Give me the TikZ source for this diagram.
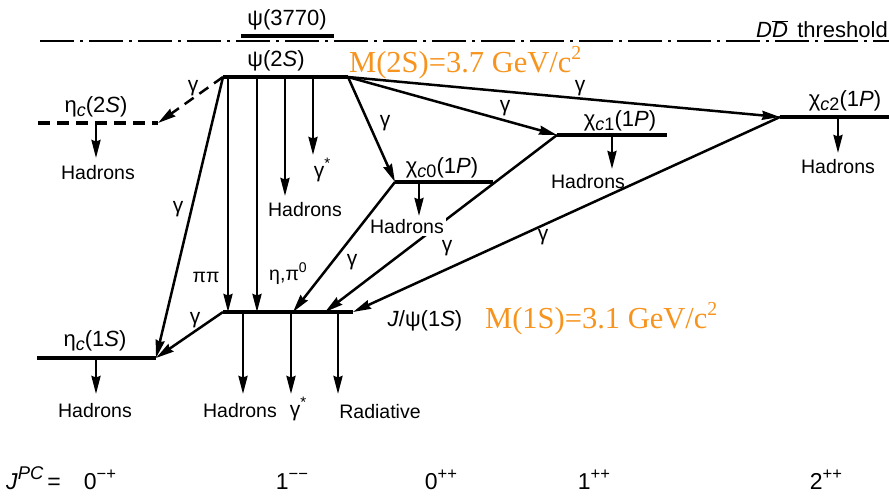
\documentclass[tikz,border=0pt]{standalone}
\usepackage{fontspec}
\setmainfont{Liberation Sans}
\newfontfamily\orfont{Liberation Serif}
\usetikzlibrary{arrows.meta}
\definecolor{masscol}{RGB}{247,148,30}
\makeatletter
\newcommand\supx[2][0.72]{{\edef\tmpsz{\strip@pt\dimexpr#1\dimexpr\f@size pt\relax\relax}\raisebox{0.42em}{\fontsize{\tmpsz}{\tmpsz}\selectfont #2}}}
\newcommand\subx[2][0.82]{{\edef\tmpsz{\strip@pt\dimexpr#1\dimexpr\f@size pt\relax\relax}\raisebox{-0.18em}{\fontsize{\tmpsz}{\tmpsz}\selectfont #2}}}
\makeatother
\begin{document}
\begin{tikzpicture}[x=1pt,y=-1pt,
  lvl/.style={line width=4.3pt},
  thr/.style={line width=1.5pt, dash pattern=on 34pt off 6pt on 3pt off 6pt},
  arr/.style={line width=2.5pt,-{Stealth[length=18pt,width=9pt,inset=1.5pt]}},
  darr/.style={arr, dash pattern=on 11pt off 7pt},
  lab/.style={font=\fontsize{19.5}{21}\selectfont, inner sep=1pt},
  glab/.style={font=\fontsize{21}{22}\selectfont, inner sep=1pt},
  lvlab/.style={font=\fontsize{22}{23}\selectfont, inner sep=1pt},
  qlab/.style={font=\fontsize{23}{25}\selectfont, inner sep=1pt, anchor=base},
  masslab/.style={font=\orfont\fontsize{30.5}{32}\selectfont, text=masscol, inner sep=0pt},
]
\useasboundingbox (0,0) rectangle (889,496);

% level end points
\coordinate (thL) at (40,41);   \coordinate (thR) at (889,41);
\coordinate (p37L) at (241,36); \coordinate (p37R) at (334,36);
\coordinate (p2L) at (223,77);  \coordinate (p2R) at (348,77);
\coordinate (e2L) at (38,123);  \coordinate (e2R) at (158,123);
\coordinate (e1L) at (37,358);  \coordinate (e1R) at (156,358);
\coordinate (jL) at (223,312);  \coordinate (jR) at (353,312);
\coordinate (c0L) at (395,182); \coordinate (c0R) at (493,182);
\coordinate (c1L) at (557,135); \coordinate (c1R) at (667,135);
\coordinate (c2L) at (780,117); \coordinate (c2R) at (889,117);

% points on levels and arrow tips
\coordinate (e2d) at (96,123);  \coordinate (e2t) at (96,158);
\coordinate (pp) at (228,77);   \coordinate (ppt) at (228,312);
\coordinate (ep) at (257,77);   \coordinate (ept) at (257,312);
\coordinate (p2h) at (285,77);  \coordinate (p2ht) at (285,196);
\coordinate (p2g) at (313,77);  \coordinate (p2gt) at (313,155);
\coordinate (c0d) at (419,182); \coordinate (c0t) at (419,216);
\coordinate (c1d) at (612,135); \coordinate (c1t) at (612,169);
\coordinate (c2d) at (838,117); \coordinate (c2t) at (838,153);
\coordinate (e1d) at (96,358);  \coordinate (e1t) at (96,394);
\coordinate (jh) at (243,312);  \coordinate (jht) at (243,394);
\coordinate (jg) at (291,312);  \coordinate (jgt) at (291,394);
\coordinate (jr) at (338,312);  \coordinate (jrt) at (338,394);
\coordinate (jc0) at (293,312); \coordinate (jc1) at (325,312);

% levels
\draw[thr] (thL) -- (thR);
\draw[lvl] (p37L) -- (p37R);
\draw[lvl] (p2L) -- (p2R);
\draw[lvl, dash pattern=on 12pt off 7pt] (e2L) -- (e2R);
\draw[lvl] (e1L) -- (e1R);
\draw[lvl] (jL) -- (jR);
\draw[lvl] (c0L) -- (c0R);
\draw[lvl] (c1L) -- (c1R);
\draw[lvl] (c2L) -- (c2R);

% transitions
\draw[darr] (p2L) -- (e2R);
\draw[arr] (p2L) -- (e1R);
\draw[arr] (pp) -- (ppt);
\draw[arr] (ep) -- (ept);
\draw[arr] (p2h) -- (p2ht);
\draw[arr] (p2g) -- (p2gt);
\draw[arr] (p2R) -- (c0L);
\draw[arr] (p2R) -- (c1L);
\draw[arr] (p2R) -- (c2L);
\draw[arr] (c0L) -- (jc0);
\draw[arr] (c1L) -- (jc1);
\draw[arr] (c2L) -- (jR);
\draw[arr] (jL) -- (e1R);

% decays
\draw[arr] (e2d) -- (e2t);
\draw[arr] (c0d) -- (c0t);
\draw[arr] (c1d) -- (c1t);
\draw[arr] (c2d) -- (c2t);
\draw[arr] (e1d) -- (e1t);
\draw[arr] (jh) -- (jht);
\draw[arr] (jg) -- (jgt);
\draw[arr] (jr) -- (jrt);

% labels
\node[lvlab] (l37) at (287,20) {ψ(3770)};
\node[lvlab] (l2s) at (276,61) {ψ(2\textit{S})};
\node[lvlab, anchor=east] (lth) at (889,29) {\textit{D}$\overline{\mbox{\textit{D}}}$\hspace{0.15em} threshold};
\node[masslab, anchor=base west] (m2) at (349,72) {M(2S)=3.7 GeV/c\supx[0.65]{2}};
\node[masslab, anchor=base west] (m1) at (485,328) {M(1S)=3.1 GeV/c\supx[0.65]{2}};

\node[lvlab] (le2) at (96,107) {η\subx{\textit{c}}(2\textit{S})};
\node[glab] (g1) at (193,88) {γ};
\node[lab] (h1) at (98,173) {Hadrons};
\node[glab] (g2) at (178,209) {γ};
\node[lab] (lpp) at (206,277) {ππ};
\node[lab] (lep) at (288,274) {η,π\supx{0}};
\node[lab] (h2) at (305,210) {Hadrons};
\node[glab] (gs1) at (322,170) {γ\supx{*}};
\node[glab] (g3) at (385,123) {γ};
\node[glab] (g4) at (505,108) {γ};
\node[glab] (g5) at (580,88) {γ};

\node[lvlab] (lc0) at (442,168) {χ\subx{\textit{c}0}(1\textit{P})};
\node[lab, fill=white, inner sep=2pt] (h3) at (407,227) {Hadrons};
\node[glab] (g6) at (352,262) {γ};
\node[glab] (g7) at (447,248) {γ};
\node[glab] (g8) at (543,237) {γ};
\node[lvlab] (lc1) at (620,121) {χ\subx{\textit{c}1}(1\textit{P})};
\node[lab] (h4) at (588,182) {Hadrons};
\node[lvlab] (lc2) at (845,101) {χ\subx{\textit{c}2}(1\textit{P})};
\node[lab] (h5) at (838,167) {Hadrons};

\node[lvlab] (lj) at (425,321) {\textit{J}/ψ(1\textit{S})};
\node[glab] (g9) at (195,320) {γ};
\node[lvlab] (le1) at (95,341) {η\subx{\textit{c}}(1\textit{S})};
\node[lab] (h6) at (95,411) {Hadrons};
\node[lab] (h7) at (240,411) {Hadrons};
\node[glab] (gs2) at (298,409) {γ\supx{*}};
\node[lab] (rad) at (380,412) {Radiative};

\node[qlab, anchor=base west] (jpc) at (5,489) {\textit{J}\supx[0.8]{\textit{PC}}\,=};
\node[qlab] (q1) at (100,489) {0\supx{−+}};
\node[qlab] (q2) at (292,489) {1\supx{−−}};
\node[qlab] (q3) at (441,489) {0\supx{++}};
\node[qlab] (q4) at (594,489) {1\supx{++}};
\node[qlab] (q5) at (826,489) {2\supx{++}};
\end{tikzpicture}
\end{document}
